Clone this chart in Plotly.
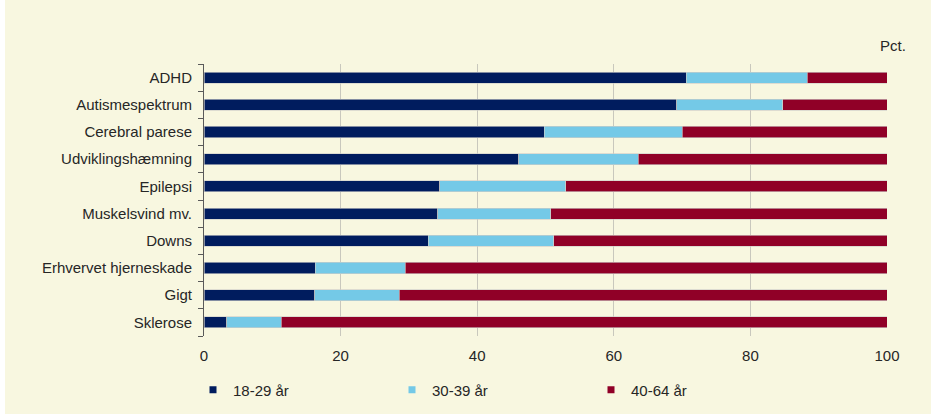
import plotly.graph_objects as go

# Share of each diagnosis group by age band (percent)
categories = [
    "ADHD", "Autismespektrum", "Cerebral parese", "Udviklingshæmning",
    "Epilepsi", "Muskelsvind mv.", "Downs", "Erhvervet hjerneskade",
    "Gigt", "Sklerose",
]
age_18_29 = [70.6, 69.2, 49.8, 46.1, 34.5, 34.2, 32.8, 16.3, 16.2, 3.3]
age_30_39 = [17.7, 15.5, 20.2, 17.5, 18.5, 16.6, 18.4, 13.2, 12.4, 8.0]
age_40_64 = [11.7, 15.3, 30.0, 36.4, 47.0, 49.2, 48.8, 70.5, 71.4, 88.7]

series_names = ["18-29 år", "30-39 år", "40-64 år"]
series_values = [age_18_29, age_30_39, age_40_64]
series_colors = ["#001c5e", "#74c9e7", "#900027"]

x_ticks = [0, 20, 40, 60, 80, 100]

W, H = 931, 414
ML, MR, MT, MB = 204, 44, 64, 78
PW, PH = W - ML - MR, H - MT - MB
BG = "#f8f7e0"
FONT = "Liberation Sans, Arial, sans-serif"
TXT = "#262626"
FS = 15

fig = go.Figure()

for name, vals, col in zip(series_names, series_values, series_colors):
    fig.add_trace(go.Bar(
        y=categories, x=vals, name=name, orientation="h",
        marker=dict(color=col, line=dict(color="rgba(205,205,200,0.8)", width=0.8)),
        width=0.41, showlegend=False,
    ))
    # small square legend keys
    fig.add_trace(go.Scatter(
        x=[None], y=[None], mode="markers", name=name,
        marker=dict(symbol="square", size=7, color=col), showlegend=True,
    ))

fig.update_layout(
    width=W, height=H,
    margin=dict(l=ML, r=MR, t=MT, b=MB, pad=0, autoexpand=False),
    barmode="stack",
    paper_bgcolor="white",
    plot_bgcolor=BG,
    font=dict(family=FONT, size=FS, color=TXT),
    xaxis=dict(
        range=[0, 100], tickvals=x_ticks, ticktext=[str(v) for v in x_ticks],
        showgrid=True, gridcolor="#c9c8bd", gridwidth=1,
        zeroline=False, showline=False, ticks="",
        tickfont=dict(size=FS, color=TXT), ticklabelstandoff=9,
        fixedrange=True,
    ),
    yaxis=dict(
        categoryorder="array", categoryarray=categories[::-1],
        showgrid=False, zeroline=False,
        showline=True, linecolor="#5a5a5a", linewidth=1,
        ticks="outside", tickson="boundaries", ticklen=5, tickcolor="#5a5a5a",
        tickfont=dict(size=FS, color=TXT), ticklabelstandoff=8,
    ),
    legend=dict(
        orientation="h", traceorder="normal",
        x=(193 - ML) / PW, y=(H - MB - 390) / PH,
        xanchor="left", yanchor="middle",
        entrywidth=154, entrywidthmode="pixels",
        bgcolor="rgba(0,0,0,0)", font=dict(size=FS, color=TXT),
        itemclick=False,
    ),
    shapes=[dict(
        type="rect", xref="paper", yref="paper", layer="below",
        x0=(5 - ML) / PW, x1=(W - ML) / PW, y0=-MB / PH, y1=(H - MB) / PH,
        fillcolor=BG, line=dict(width=0),
    )],
    annotations=[dict(
        text="Pct.", xref="paper", yref="paper",
        x=(893 - ML) / PW, y=(H - MB - 45) / PH,
        xanchor="center", yanchor="middle", showarrow=False,
        font=dict(size=FS, color=TXT),
    )],
)

fig.write_html("out.html")
